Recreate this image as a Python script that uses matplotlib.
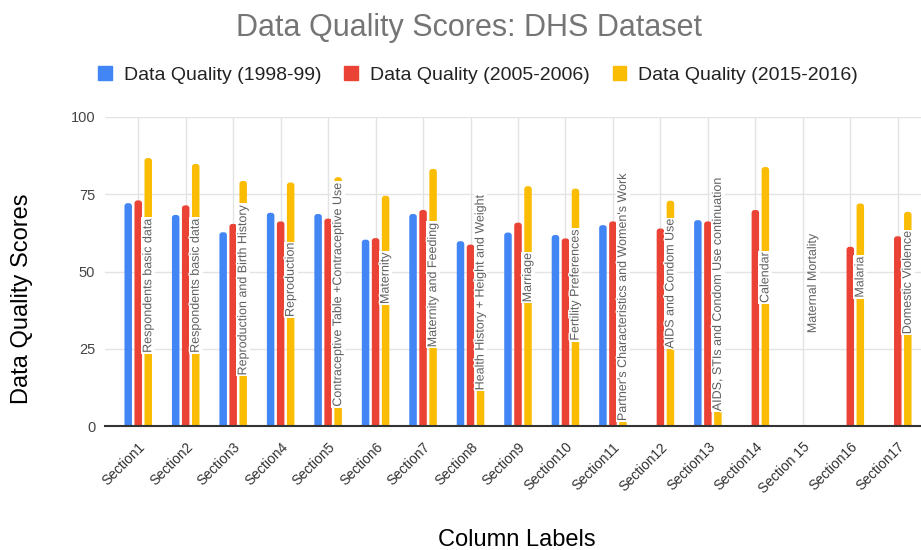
import numpy as np
import matplotlib
matplotlib.use('Agg')
import matplotlib.pyplot as plt
from matplotlib.patches import Patch, FancyBboxPatch
import matplotlib.patheffects as pe

plt.rcParams['font.family'] = ['Liberation Sans', 'DejaVu Sans']

# data
sections = ['Section1', 'Section2', 'Section3', 'Section4', 'Section5', 'Section6',
            'Section7', 'Section8', 'Section9', 'Section10', 'Section11', 'Section12',
            'Section13', 'Section14', 'Section 15', 'Section16', 'Section17']
q_1998 = [72.1, 68.3, 62.7, 69.0, 68.6, 60.3, 68.6, 59.8, 62.6, 61.8, 65.0,
          np.nan, 66.6, np.nan, np.nan, np.nan, np.nan]
q_2005 = [73.0, 71.4, 65.4, 66.2, 67.1, 60.8, 69.9, 58.7, 65.8, 60.7, 66.2,
          63.9, 66.2, 69.9, np.nan, 58.0, 61.4]
q_2015 = [86.7, 84.8, 79.3, 78.8, 80.5, 74.5, 83.2, 70.0, 77.6, 76.8, 72.0,
          72.9, 71.0, 83.8, np.nan, 72.0, 69.3]
topics = ['Respondents basic data', 'Respondents basic data', 'Reproduction and Birth History',
          'Reproduction', 'Contraceptive Table +Contraceptive Use', 'Maternity',
          'Maternity and Feeding', 'Health History + Height and Weight', 'Marriage',
          'Fertility Preferences', "Partner's Characteristics and Women's Work",
          'AIDS and Condom Use', 'AIDS, STIs and Condom Use continuation', 'Calendar',
          'Maternal Mortality', 'Malaria', 'Domestic Violence']
series_names = ['Data Quality (1998-99)', 'Data Quality (2005-2006)', 'Data Quality (2015-2016)']
colors = ['#4285F4', '#EA4335', '#FBBC04']

fig = plt.figure(figsize=(9.21, 5.5), dpi=100)
ax = fig.add_axes([105/921, 1 - 426/550, 826/921, 309/550])

ax.set_xlim(-0.70, 16.70)
ax.set_ylim(0, 100)

x = np.arange(len(sections))
off = 0.211
w = 0.158
# y units per x unit on screen, so the corner rounding stays circular
aspect = (100 / 309) / (17.4 / 826)
for k, (vals, col) in enumerate(zip([q_1998, q_2005, q_2015], colors)):
    for xi, v in zip(x, vals):
        if np.isnan(v):
            continue
        p = FancyBboxPatch((xi + (k - 1) * off - w / 2, -2), w, v + 2,
                           boxstyle='round,pad=0,rounding_size=0.06',
                           mutation_aspect=aspect, facecolor=col, edgecolor='none',
                           zorder=3)
        ax.add_patch(p)

for i, t in enumerate(topics):
    ax.text(x[i] + off, 49.5 - 0.18 * len(t), t, rotation=90, ha='center', va='center',
            fontsize=9, color='#606060', zorder=5,
            bbox=dict(facecolor='white', edgecolor='none', pad=0.6),
            path_effects=[pe.withStroke(linewidth=2, foreground='white')])

ax.set_yticks([0, 25, 50, 75, 100])
ax.set_xticks(x)
ax.set_xticklabels(sections, rotation=45, ha='right', rotation_mode='anchor',
                   fontsize=10, color='#333333')
ax.tick_params(axis='y', labelsize=10.5, labelcolor='#444444', length=0, pad=7)
ax.tick_params(axis='x', length=0, pad=10)
ax.grid(True, color='#e3e3e3', linewidth=1, zorder=0)
for s in ['top', 'right', 'left']:
    ax.spines[s].set_visible(False)
ax.spines['bottom'].set_color('#333333')
ax.spines['bottom'].set_linewidth(1.5)
ax.spines['bottom'].set_zorder(4)

fig.text(469/921, 1 - 28/550, 'Data Quality Scores: DHS Dataset', ha='center', va='center',
         fontsize=22, color='#757575')
handles = [Patch(color=c, label=n) for c, n in zip(colors, series_names)]
fig.legend(handles=handles, loc='center', bbox_to_anchor=(478/921, 1 - 75/550), ncol=3,
           frameon=False, fontsize=14, handlelength=0.7, handleheight=0.7,
           handletextpad=0.6, columnspacing=1.2, labelcolor='#222222')
fig.text(22/921, 1 - 299/550, 'Data Quality Scores', rotation=90, ha='center', va='center',
         fontsize=17, color='black')
fig.text(517/921, 1 - 540/550, 'Column Labels', ha='center', va='center',
         fontsize=17, color='black')

fig.savefig('out.png', dpi=100)
